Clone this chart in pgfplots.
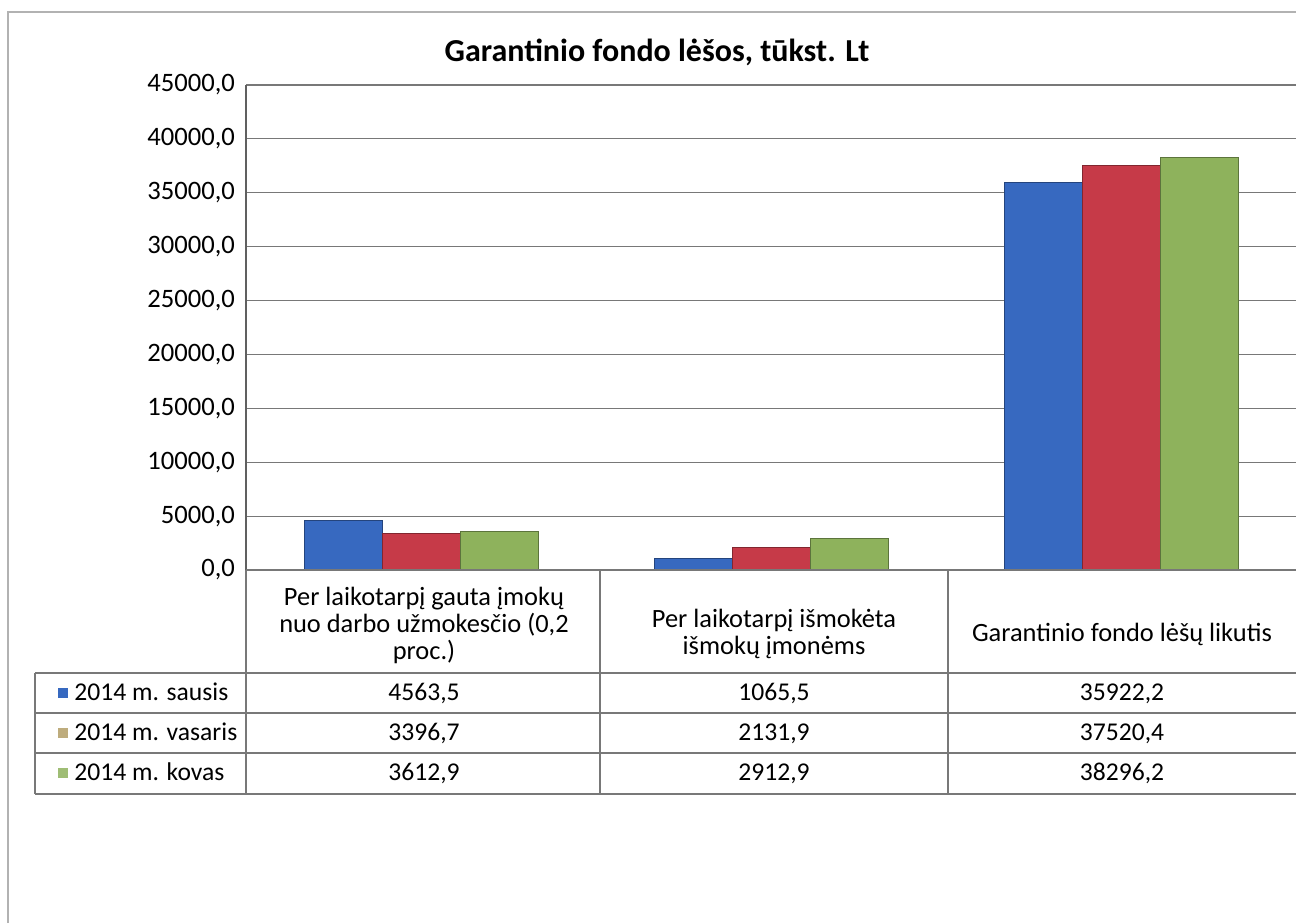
\documentclass[border=0pt]{standalone}
\usepackage{fontspec}
\setmainfont{Carlito}
\usepackage{pgfplots}
\pgfplotsset{compat=1.18}
\definecolor{cblue}{RGB}{55,105,192}
\definecolor{cred}{RGB}{198,58,72}
\definecolor{cgreen}{RGB}{142,178,92}
\definecolor{ckey}{RGB}{190,172,125}
\definecolor{gline}{RGB}{120,120,120}
\begin{document}
\begin{tikzpicture}[x=0.5pt,y=0.5pt]
\path[use as bounding box] (0,0) rectangle (1296,923);
\draw[gray!60, line width=0.8pt] (8,0) -- (8,911) -- (1296,911);
\coordinate (O) at (246,353);
\begin{axis}[at={(O)}, anchor=south west,
  width=525pt, height=242.5pt, scale only axis,
  xmin=-0.5, xmax=2.5, ymin=0, ymax=45000,
  ytick={0,5000,...,45000}, xtick=\empty, scaled y ticks=false,
  ymajorgrids, grid style={gline, line width=0.6pt},
  axis x line=none, axis y line*=left, axis line style={-, gline!80!black, line width=0.7pt},
  major tick length=0pt,
  yticklabel style={font=\fontsize{13.3}{15}\selectfont, xshift=-2pt},
  /pgf/number format/.cd, fixed, fixed zerofill, precision=1, use comma, 1000 sep={}, assume math mode=true,
  /pgfplots/.cd,
  ybar=0pt, bar width=39pt, clip=false]
\addplot[fill=cblue, draw=cblue!65!black, line width=0.5pt] coordinates {(0,4563.5) (1,1065.5) (2,35922.2)};
\addplot[fill=cred, draw=cred!65!black, line width=0.5pt] coordinates {(0,3396.7) (1,2131.9) (2,37520.4)};
\addplot[fill=cgreen, draw=cgreen!65!black, line width=0.5pt] coordinates {(0,3612.9) (1,2912.9) (2,38296.2)};
\end{axis}
% title
\node[font=\bfseries\fontsize{16}{18}\selectfont] at (657,871) {Garantinio fondo lėšos, tūkst. Lt};
% data table
\begin{scope}[gline, line width=0.6pt]
\draw (246,353) -- (1296,353);
\draw (35,250) -- (1296,250);
\draw (35,210) -- (1296,210);
\draw (35,170) -- (1296,170);
\draw (35,129) -- (1296,129);
\draw (35,250) -- (35,129);
\draw (246,353) -- (246,129);
\draw (600,353) -- (600,129);
\draw (948,353) -- (948,129);
\end{scope}
\begin{scope}[every node/.style={font=\fontsize{13.2}{15}\selectfont, inner sep=0pt, anchor=mid}]
\node at (424,322) {Per laikotarpį gauta įmokų};
\node at (424,295) {nuo darbo užmokesčio (0,2};
\node at (424,268) {proc.)};
\node at (774,300) {Per laikotarpį išmokėta};
\node at (774,273) {išmokų įmonėms};
\node at (1122,286) {Garantinio fondo lėšų likutis};
\end{scope}
\begin{scope}[every node/.style={font=\fontsize{12.8}{15}\selectfont, inner sep=0pt, anchor=mid}]
\fill[cblue] (58,225) rectangle (68,235);
\fill[ckey] (58,185) rectangle (68,195);
\fill[cgreen!85!white] (58,145) rectangle (68,155);
\node[anchor=mid west] at (74,227) {2014 m. sausis};
\node[anchor=mid west] at (74,187) {2014 m. vasaris};
\node[anchor=mid west] at (74,147) {2014 m. kovas};
\node at (424,227) {4563,5};
\node at (424,187) {3396,7};
\node at (424,147) {3612,9};
\node at (774,227) {1065,5};
\node at (774,187) {2131,9};
\node at (774,147) {2912,9};
\node at (1122,227) {35922,2};
\node at (1122,187) {37520,4};
\node at (1122,147) {38296,2};
\end{scope}
\end{tikzpicture}
\end{document}
